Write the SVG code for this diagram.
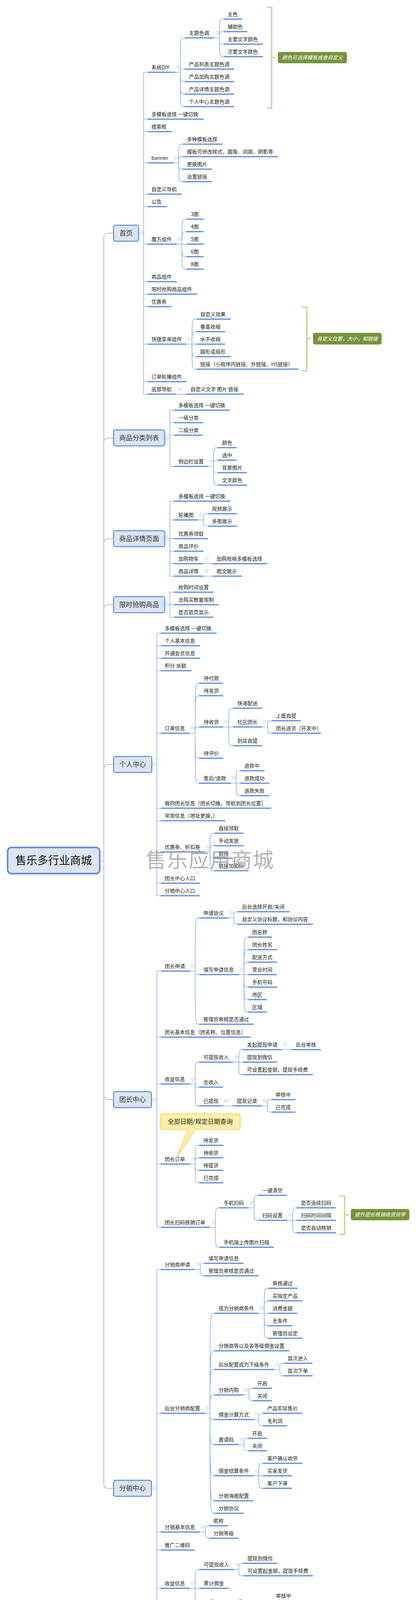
<svg xmlns="http://www.w3.org/2000/svg" xmlns:xlink="http://www.w3.org/1999/xlink" width="1066" height="4403" viewBox="0 0 1066 4403">
<style>
.u{stroke:#5A8BD6;stroke-width:3}
.t{font-family:"Noto Sans CJK SC","Liberation Sans",sans-serif;font-size:13px;fill:#1a1a1a}
.k{fill:none;stroke:#6B98DA;stroke-width:1.2}
.b{fill:#DBE5F3;stroke:#5A8BD6;stroke-width:2.5}
.bt{font-family:"Noto Sans CJK SC","Liberation Sans",sans-serif;font-size:17px;fill:#333;text-anchor:middle}
.br{fill:none;stroke:#C3D69B;stroke-width:3.5}
.cb{fill:#77933C}
.ct{font-family:"Noto Sans CJK SC","Liberation Sans",sans-serif;fill:#fff;font-style:italic;font-size:13px;text-anchor:middle}
</style>
<defs>
<g id="col"><circle r="4.3" fill="#fff" stroke="#AFC0E2" stroke-width="1"/><path d="M-2.3,0H2.3" stroke="#AFC0E2" stroke-width="1"/></g>
</defs>
<rect width="1066" height="4403" fill="#fff"/>

<g id="connectors">
<path class="k" d="M256 2203H266 M266 609V3798 M266 609Q266 597 278 597H291 M266 1133Q266 1121 278 1121H291 M266 1391Q266 1379 278 1379H291 M266 1560Q266 1548 278 1548H291 M266 1969Q266 1957 278 1957H291 M266 2803Q266 2815 278 2815H291 M266 3798Q266 3810 278 3810H291"/>
<path class="k" d="M355 597H368 M368 185V1009 M368 185H378 M368 305H378 M368 337H378 M368 417H378 M368 497H378 M368 529H378 M368 625H378 M368 721H378 M368 753H378 M368 785H378 M368 881H378 M368 977H378 M368 1009H378"/>
<path class="k" d="M422 1121H435 M435 1050V1194 M435 1050H446 M435 1082H446 M435 1114H446 M435 1194H446"/>
<path class="k" d="M422 1379H435 M435 1283V1475 M435 1283H446 M435 1331H446 M435 1379H446 M435 1411H446 M435 1443H446 M435 1475H446"/>
<path class="k" d="M422 1548H435 M435 1516V1580 M435 1516H446 M435 1548H446 M435 1580H446"/>
<path class="k" d="M389 1957H402 M402 1621V2293 M402 1621H412 M402 1653H412 M402 1685H412 M402 1717H412 M402 1877H412 M402 2069H412 M402 2101H412 M402 2181H412 M402 2261H412 M402 2293H412"/>
<path class="k" d="M388 2815H402 M402 2486V3142 M402 2486H412 M402 2655H412 M402 2775H412 M402 2980H412 M402 3142H412"/>
<path class="k" d="M388 3810H402 M402 3250V4371 M402 3250H412 M402 3618H412 M402 3922H412 M402 3968H412 M402 4066H412 M402 4226H412 M402 4371H412"/>
<path class="k" d="M449 185H462 M462 185C462 97 462 97 473 97 M462 185C462 177 462 177 473 177 M462 185C462 209 462 209 473 209 M462 185C462 241 462 241 473 241 M462 185C462 273 462 273 473 273"/>
<path class="k" d="M548 97H562 M562 97C562 49 562 49 573 49 M562 97C562 81 562 81 573 81 M562 97C562 113 562 113 573 113 M562 97C562 145 562 145 573 145"/>
<path class="k" d="M445 417H458 M458 417C458 369 458 369 468 369 M458 417C458 401 458 401 468 401 M458 417C458 433 458 433 468 433 M458 417C458 465 458 465 468 465"/>
<path class="k" d="M453 625H466 M466 625C466 561 466 561 478 561 M466 625C466 593 466 593 478 593 M466 625H478 M466 625C466 657 466 657 478 657 M466 625C466 689 466 689 478 689"/>
<path class="k" d="M478 881H492 M492 881C492 817 492 817 503 817 M492 881C492 849 492 849 503 849 M492 881H503 M492 881C492 913 492 913 503 913 M492 881C492 945 492 945 503 945"/>
<path class="k" d="M452 1009H477"/>
<path class="k" d="M533 1194H547 M547 1194C547 1146 547 1146 558 1146 M547 1194C547 1178 547 1178 558 1178 M547 1194C547 1210 547 1210 558 1210 M547 1194C547 1242 547 1242 558 1242"/>
<path class="k" d="M508 1331H521 M521 1331C521 1315 521 1315 533 1315 M521 1331C521 1347 521 1347 533 1347 M521 1443H545 M521 1475H545"/>
<path class="k" d="M486 1877H500 M500 1877C500 1749 500 1749 510 1749 M500 1877C500 1781 500 1781 510 1781 M500 1877C500 1861 500 1861 510 1861 M500 1877C500 1941 500 1941 510 1941 M500 1877C500 2005 500 2005 510 2005"/>
<path class="k" d="M572 1861H586 M586 1861C586 1813 586 1813 597 1813 M586 1861H597 M586 1861C586 1909 586 1909 597 1909"/>
<path class="k" d="M672 1861H686 M686 1861C686 1845 686 1845 696 1845 M686 1861C686 1877 686 1877 696 1877"/>
<path class="k" d="M592 2005H605 M605 2005C605 1973 605 1973 616 1973 M605 2005H616 M605 2005C605 2037 605 2037 616 2037"/>
<path class="k" d="M525 2181H538 M538 2181C538 2133 538 2133 549 2133 M538 2181C538 2165 538 2165 549 2165 M538 2181C538 2197 538 2197 549 2197 M538 2181C538 2229 538 2229 549 2229"/>
<path class="k" d="M487 2486H500 M500 2486C500 2350 500 2350 510 2350 M500 2486C500 2495 500 2495 510 2495 M500 2486C500 2622 500 2622 510 2622"/>
<path class="k" d="M586 2350H599 M599 2350C599 2334 599 2334 609 2334 M599 2350C599 2366 599 2366 609 2366"/>
<path class="k" d="M612 2495H625 M625 2495C625 2399 625 2399 636 2399 M625 2495C625 2431 625 2431 636 2431 M625 2495C625 2463 625 2463 636 2463 M625 2495H636 M625 2495C625 2527 625 2527 636 2527 M625 2495C625 2559 625 2559 636 2559 M625 2495C625 2591 625 2591 636 2591"/>
<path class="k" d="M487 2775H500 M500 2775C500 2719 500 2719 510 2719 M500 2775C500 2783 500 2783 510 2783 M500 2775C500 2831 500 2831 510 2831"/>
<path class="k" d="M597 2719H612 M612 2719C612 2687 612 2687 622 2687 M612 2719H622 M612 2719C612 2751 612 2751 622 2751 M722 2687H747 M572 2831H596"/>
<path class="k" d="M671 2831H685 M685 2831C685 2815 685 2815 696 2815 M685 2831C685 2847 685 2847 696 2847"/>
<path class="k" d="M486 2980H500 M500 2980C500 2932 500 2932 510 2932 M500 2980C500 2964 500 2964 510 2964 M500 2980C500 2996 500 2996 510 2996 M500 2980C500 3028 500 3028 510 3028"/>
<path class="k" d="M538 3142H552 M552 3142C552 3092 552 3092 562 3092 M552 3142C552 3193 552 3193 562 3193"/>
<path class="k" d="M637 3092H651 M651 3092C651 3060 651 3060 662 3060 M651 3092C651 3124 651 3124 662 3124"/>
<path class="k" d="M736 3124H750 M750 3124C750 3092 750 3092 760 3092 M750 3124H760 M750 3124C750 3156 750 3156 760 3156"/>
<path class="k" d="M499 3250H513 M513 3250C513 3234 513 3234 523 3234 M513 3250C513 3266 513 3266 523 3266"/>
<path class="k" d="M526 3618H538 M538 3618C538 3362 538 3362 549 3362 M538 3618C538 3458 538 3458 549 3458 M538 3618C538 3506 538 3506 549 3506 M538 3618C538 3571 538 3571 549 3571 M538 3618C538 3634 538 3634 549 3634 M538 3618C538 3698 538 3698 549 3698 M538 3618C538 3778 538 3778 549 3778 M538 3618C538 3842 538 3842 549 3842 M538 3618C538 3874 538 3874 549 3874"/>
<path class="k" d="M663 3362H677 M677 3362C677 3298 677 3298 687 3298 M677 3362C677 3330 677 3330 687 3330 M677 3362H687 M677 3362C677 3394 677 3394 687 3394 M677 3362C677 3426 677 3426 687 3426"/>
<path class="k" d="M702 3506H717 M717 3506C717 3490 717 3490 727 3490 M717 3506C717 3522 717 3522 727 3522"/>
<path class="k" d="M624 3571H638 M638 3571C638 3554 638 3554 648 3554 M638 3571C638 3586 638 3586 648 3586"/>
<path class="k" d="M650 3634H663 M663 3634C663 3618 663 3618 674 3618 M663 3634C663 3650 663 3650 674 3650"/>
<path class="k" d="M611 3698H625 M625 3698C625 3682 625 3682 636 3682 M625 3698C625 3714 625 3714 636 3714"/>
<path class="k" d="M650 3778H663 M663 3778C663 3746 663 3746 674 3746 M663 3778H674 M663 3778C663 3810 663 3810 674 3810"/>
<path class="k" d="M512 3922H526 M526 3922C526 3906 526 3906 536 3906 M526 3922C526 3938 526 3938 536 3938"/>
<path class="k" d="M486 4066H500 M500 4066C500 4018 500 4018 511 4018 M500 4066H511 M500 4066C500 4114 500 4114 511 4114"/>
<path class="k" d="M599 4018H612 M612 4018C612 4002 612 4002 623 4002 M612 4018C612 4034 612 4034 623 4034 M573 4114H597"/>
<path class="k" d="M672 4114H685 M685 4114C685 4098 685 4098 696 4098 M685 4114C685 4130 685 4130 696 4130"/>
<path class="k" d="M486 4226H500 M500 4226C500 4162 500 4162 511 4162 M500 4226C500 4194 500 4194 511 4194 M500 4226H511 M500 4226C500 4290 500 4290 511 4290"/>
<path class="k" d="M586 4290H599 M599 4290C599 4258 599 4258 610 4258 M599 4290H610 M599 4290C599 4322 599 4322 610 4322"/>
<path class="k" d="M486 4371H500 M500 4371C500 4354 500 4354 511 4354 M500 4371C500 4386 500 4386 511 4386"/>
</g>

<g id="root"><rect x="19.5" y="2169.5" width="236" height="67" rx="10" fill="#DBE5F3" stroke="#5A8BD6" stroke-width="4"/><text x="137.5" y="2213" font-family="'Noto Sans CJK SC',sans-serif" font-size="28" text-anchor="middle" fill="#111">售乐多行业商城</text></g>

<g id="l1-home"><rect class="b" x="291" y="576.5" width="64" height="41" rx="5"/><text class="bt" x="323" y="603">首页</text><use href="#col" x="362" y="597"/></g>
<g id="l1-cat"><rect class="b" x="291" y="1100.5" width="131" height="41" rx="5"/><text class="bt" x="356.5" y="1127">商品分类列表</text><use href="#col" x="429" y="1121"/></g>
<g id="l1-detail"><rect class="b" x="291" y="1358.5" width="131" height="41" rx="5"/><text class="bt" x="356.5" y="1385">商品详情页面</text><use href="#col" x="429" y="1379"/></g>
<g id="l1-flash"><rect class="b" x="291" y="1527.5" width="131" height="41" rx="5"/><text class="bt" x="356.5" y="1554">限时抢购商品</text><use href="#col" x="429" y="1548"/></g>
<g id="l1-user"><rect class="b" x="291" y="1936.5" width="98" height="41" rx="5"/><text class="bt" x="340" y="1963">个人中心</text><use href="#col" x="396" y="1957"/></g>
<g id="l1-leader"><rect class="b" x="291" y="2794.5" width="97" height="41" rx="5"/><text class="bt" x="339.5" y="2821">团长中心</text><use href="#col" x="395" y="2815"/></g>
<g id="l1-dist"><rect class="b" x="291" y="3789.5" width="97" height="41" rx="5"/><text class="bt" x="339.5" y="3816">分销中心</text><use href="#col" x="395" y="3810"/></g>

<g id="home-nodes">
<g id="n-diy"><line class="u" x1="378" y1="185" x2="449" y2="185"/><text class="t" x="388" y="177">系统DIY</text><use href="#col" x="457" y="172"/></g>
<g id="n-theme"><line class="u" x1="473" y1="97" x2="548" y2="97"/><text class="t" x="484" y="89">主题色调</text><use href="#col" x="557" y="84"/></g>
<g id="n-c1"><line class="u" x1="573" y1="49" x2="621" y2="49"/><text class="t" x="583" y="41">主色</text></g>
<g id="n-c2"><line class="u" x1="573" y1="81" x2="634" y2="81"/><text class="t" x="583" y="73">辅助色</text></g>
<g id="n-c3"><line class="u" x1="573" y1="113" x2="674" y2="113"/><text class="t" x="583" y="105">主要文字颜色</text></g>
<g id="n-c4"><line class="u" x1="573" y1="145" x2="674" y2="145"/><text class="t" x="583" y="137">次要文字颜色</text></g>
<g id="n-t1"><line class="u" x1="473" y1="177" x2="600" y2="177"/><text class="t" x="484" y="169">产品列表主题色调</text></g>
<g id="n-t2"><line class="u" x1="473" y1="209" x2="600" y2="209"/><text class="t" x="484" y="201">产品加购主题色调</text></g>
<g id="n-t3"><line class="u" x1="473" y1="241" x2="600" y2="241"/><text class="t" x="484" y="233">产品详情主题色调</text></g>
<g id="n-t4"><line class="u" x1="473" y1="273" x2="600" y2="273"/><text class="t" x="484" y="265">个人中心主题色调</text></g>
<g id="n-tpl"><line class="u" x1="378" y1="305" x2="522" y2="305"/><text class="t" x="388" y="297">多模板选择 一键切换</text></g>
<g id="n-search"><line class="u" x1="378" y1="337" x2="440" y2="337"/><text class="t" x="388" y="329">搜索框</text></g>
<g id="n-banner"><line class="u" x1="378" y1="417" x2="445" y2="417"/><text class="t" x="388" y="409">banner</text><use href="#col" x="452" y="404"/></g>
<g id="n-b1"><line class="u" x1="468" y1="369" x2="570" y2="369"/><text class="t" x="479" y="361">多种模板选择</text></g>
<g id="n-b2"><line class="u" x1="468" y1="401" x2="713" y2="401"/><text class="t" x="479" y="393">模板可修改样式，圆角、间距、阴影等</text></g>
<g id="n-b3"><line class="u" x1="468" y1="433" x2="543" y2="433"/><text class="t" x="479" y="425">更换图片</text></g>
<g id="n-b4"><line class="u" x1="468" y1="465" x2="543" y2="465"/><text class="t" x="479" y="457">设置链接</text></g>
<g id="n-nav"><line class="u" x1="378" y1="497" x2="466" y2="497"/><text class="t" x="388" y="489">自定义导航</text></g>
<g id="n-notice"><line class="u" x1="378" y1="529" x2="427" y2="529"/><text class="t" x="388" y="521">公告</text></g>
<g id="n-cube"><line class="u" x1="378" y1="625" x2="453" y2="625"/><text class="t" x="388" y="617">魔方组件</text><use href="#col" x="461" y="612"/></g>
<g id="n-m3"><line class="u" x1="478" y1="561" x2="522" y2="561"/><text class="t" x="489" y="553">3图</text></g>
<g id="n-m4"><line class="u" x1="478" y1="593" x2="522" y2="593"/><text class="t" x="489" y="585">4图</text></g>
<g id="n-m5"><line class="u" x1="478" y1="625" x2="522" y2="625"/><text class="t" x="489" y="617">5图</text></g>
<g id="n-m6"><line class="u" x1="478" y1="657" x2="522" y2="657"/><text class="t" x="489" y="649">6图</text></g>
<g id="n-m8"><line class="u" x1="478" y1="689" x2="522" y2="689"/><text class="t" x="489" y="681">8图</text></g>
<g id="n-goods"><line class="u" x1="378" y1="721" x2="453" y2="721"/><text class="t" x="388" y="713">商品组件</text></g>
<g id="n-flashc"><line class="u" x1="378" y1="753" x2="505" y2="753"/><text class="t" x="388" y="745">限时抢购商品组件</text></g>
<g id="n-coupon"><line class="u" x1="378" y1="785" x2="439" y2="785"/><text class="t" x="388" y="777">优惠券</text></g>
<g id="n-quick"><line class="u" x1="378" y1="881" x2="478" y2="881"/><text class="t" x="388" y="873">快捷菜单组件</text><use href="#col" x="486" y="868"/></g>
<g id="n-q1"><line class="u" x1="503" y1="817" x2="591" y2="817"/><text class="t" x="513" y="809">自定义效果</text></g>
<g id="n-q2"><line class="u" x1="503" y1="849" x2="577" y2="849"/><text class="t" x="513" y="841">垂直收缩</text></g>
<g id="n-q3"><line class="u" x1="503" y1="881" x2="577" y2="881"/><text class="t" x="513" y="873">水平收缩</text></g>
<g id="n-q4"><line class="u" x1="503" y1="913" x2="591" y2="913"/><text class="t" x="513" y="905">圆形或扇形</text></g>
<g id="n-q5"><line class="u" x1="503" y1="945" x2="765" y2="945"/><text class="t" x="513" y="937">链接（小程序内链接、外链接、H5链接）</text></g>
<g id="n-orderc"><line class="u" x1="378" y1="977" x2="478" y2="977"/><text class="t" x="388" y="969">订单轮播组件</text></g>
<g id="n-bottom"><line class="u" x1="378" y1="1009" x2="452" y2="1009"/><text class="t" x="388" y="1001">底部导航</text><use href="#col" x="461" y="996"/></g>
<g id="n-bottom1"><line class="u" x1="477" y1="1009" x2="624" y2="1009"/><text class="t" x="488" y="1001">自定义文字 图片 链接</text></g>
</g>

<g id="notes">
<g id="note-color"><path class="br" d="M684 19H696V277H684 M696 147H706"/><rect class="cb" x="712" y="133" width="177" height="29" rx="5"/><text class="ct" x="800.5" y="152">颜色可选择模板或者自定义</text></g>
<g id="note-quick"><path class="br" d="M774 787H786V949H774 M786 867H797"/><rect class="cb" x="802" y="852" width="176" height="30" rx="5"/><text class="ct" x="890" y="872">自定义位置，大小，和链接</text></g>
<g id="note-scan"><path class="br" d="M870 3062H883V3160H870 M883 3110H893"/><rect class="cb" x="899" y="3095" width="150" height="29" rx="5"/><text class="ct" x="974" y="3114">提升团长核销收货效率</text></g>
<g id="note-date"><rect x="410.5" y="2851.5" width="205" height="40" rx="5" fill="#FDF1A8" stroke="#F3C24F" stroke-width="1.5"/><polygon points="481,2890 500,2890 453,2962" fill="#FDF1A8"/><polyline points="481,2892.3 453,2962 500,2892.3" fill="none" stroke="#F3C24F" stroke-width="1.5"/><text x="513" y="2877" font-family="'Noto Sans CJK SC',sans-serif" font-size="16" text-anchor="middle" fill="#222">全部日期/规定日期查询</text></g>
</g>

<g id="cat-nodes">
<g id="n-cat1"><line class="u" x1="446" y1="1050" x2="589" y2="1050"/><text class="t" x="457" y="1042">多模板选择 一键切换</text></g>
<g id="n-cat2"><line class="u" x1="446" y1="1082" x2="520" y2="1082"/><text class="t" x="457" y="1074">一级分类</text></g>
<g id="n-cat3"><line class="u" x1="446" y1="1114" x2="520" y2="1114"/><text class="t" x="457" y="1106">二级分类</text></g>
<g id="n-side"><line class="u" x1="446" y1="1194" x2="533" y2="1194"/><text class="t" x="457" y="1186">侧边栏设置</text><use href="#col" x="541" y="1181"/></g>
<g id="n-s1"><line class="u" x1="558" y1="1146" x2="606" y2="1146"/><text class="t" x="569" y="1138">颜色</text></g>
<g id="n-s2"><line class="u" x1="558" y1="1178" x2="607" y2="1178"/><text class="t" x="569" y="1170">选中</text></g>
<g id="n-s3"><line class="u" x1="558" y1="1210" x2="633" y2="1210"/><text class="t" x="569" y="1202">背景图片</text></g>
<g id="n-s4"><line class="u" x1="558" y1="1242" x2="633" y2="1242"/><text class="t" x="569" y="1234">文字颜色</text></g>
</g>

<g id="detail-nodes">
<g id="n-d1"><line class="u" x1="446" y1="1283" x2="590" y2="1283"/><text class="t" x="457" y="1275">多模板选择 一键切换</text></g>
<g id="n-d2"><line class="u" x1="446" y1="1331" x2="508" y2="1331"/><text class="t" x="457" y="1323">轮播图</text><use href="#col" x="515" y="1318"/></g>
<g id="n-d21"><line class="u" x1="533" y1="1315" x2="607" y2="1315"/><text class="t" x="543" y="1307">视频展示</text></g>
<g id="n-d22"><line class="u" x1="533" y1="1347" x2="607" y2="1347"/><text class="t" x="543" y="1339">多图展示</text></g>
<g id="n-d3"><line class="u" x1="446" y1="1379" x2="533" y2="1379"/><text class="t" x="457" y="1371">优惠券领取</text></g>
<g id="n-d4"><line class="u" x1="446" y1="1411" x2="521" y2="1411"/><text class="t" x="457" y="1403">商品评价</text></g>
<g id="n-d5"><line class="u" x1="446" y1="1443" x2="521" y2="1443"/><text class="t" x="457" y="1435">加购物车</text><use href="#col" x="529" y="1430"/></g>
<g id="n-d51"><line class="u" x1="545" y1="1443" x2="685" y2="1443"/><text class="t" x="555" y="1435">加购规格多模板选择</text></g>
<g id="n-d6"><line class="u" x1="446" y1="1475" x2="521" y2="1475"/><text class="t" x="457" y="1467">商品详情</text><use href="#col" x="529" y="1462"/></g>
<g id="n-d61"><line class="u" x1="545" y1="1475" x2="620" y2="1475"/><text class="t" x="555" y="1467">图文展示</text></g>
</g>

<g id="flash-nodes">
<g id="n-f1"><line class="u" x1="446" y1="1516" x2="547" y2="1516"/><text class="t" x="457" y="1508">抢购时间设置</text></g>
<g id="n-f2"><line class="u" x1="446" y1="1548" x2="560" y2="1548"/><text class="t" x="457" y="1540">总购买数量限制</text></g>
<g id="n-f3"><line class="u" x1="446" y1="1580" x2="547" y2="1580"/><text class="t" x="457" y="1572">是否首页显示</text></g>
</g>

<g id="user-nodes">
<g id="n-u1"><line class="u" x1="412" y1="1621" x2="555" y2="1621"/><text class="t" x="422" y="1613">多模板选择 一键切换</text></g>
<g id="n-u2"><line class="u" x1="412" y1="1653" x2="513" y2="1653"/><text class="t" x="422" y="1645">个人基本信息</text></g>
<g id="n-u3"><line class="u" x1="412" y1="1685" x2="513" y2="1685"/><text class="t" x="422" y="1677">开通会员信息</text></g>
<g id="n-u4"><line class="u" x1="412" y1="1717" x2="491" y2="1717"/><text class="t" x="422" y="1709">积分 余额</text></g>
<g id="n-order"><line class="u" x1="412" y1="1877" x2="486" y2="1877"/><text class="t" x="422" y="1869">订单信息</text><use href="#col" x="494" y="1864"/></g>
<g id="n-o1"><line class="u" x1="510" y1="1749" x2="572" y2="1749"/><text class="t" x="522" y="1741">待付款</text></g>
<g id="n-o2"><line class="u" x1="510" y1="1781" x2="572" y2="1781"/><text class="t" x="522" y="1773">待发货</text></g>
<g id="n-o3"><line class="u" x1="510" y1="1861" x2="572" y2="1861"/><text class="t" x="522" y="1853">待收货</text><use href="#col" x="580" y="1848"/></g>
<g id="n-o31"><line class="u" x1="597" y1="1813" x2="672" y2="1813"/><text class="t" x="608" y="1805">快递配送</text></g>
<g id="n-o32"><line class="u" x1="597" y1="1861" x2="672" y2="1861"/><text class="t" x="608" y="1853">社区团长</text><use href="#col" x="680" y="1848"/></g>
<g id="n-o321"><line class="u" x1="696" y1="1845" x2="771" y2="1845"/><text class="t" x="707" y="1837">上面自提</text></g>
<g id="n-o322"><line class="u" x1="696" y1="1877" x2="822" y2="1877"/><text class="t" x="707" y="1869">团长送货（开发中）</text></g>
<g id="n-o33"><line class="u" x1="597" y1="1909" x2="672" y2="1909"/><text class="t" x="608" y="1901">到店自提</text></g>
<g id="n-o4"><line class="u" x1="510" y1="1941" x2="572" y2="1941"/><text class="t" x="522" y="1933">待评价</text></g>
<g id="n-o5"><line class="u" x1="510" y1="2005" x2="592" y2="2005"/><text class="t" x="522" y="1997">售后/退款</text><use href="#col" x="599" y="1992"/></g>
<g id="n-o51"><line class="u" x1="616" y1="1973" x2="678" y2="1973"/><text class="t" x="626" y="1965">退款中</text></g>
<g id="n-o52"><line class="u" x1="616" y1="2005" x2="690" y2="2005"/><text class="t" x="626" y="1997">退款成功</text></g>
<g id="n-o53"><line class="u" x1="616" y1="2037" x2="690" y2="2037"/><text class="t" x="626" y="2029">退款失败</text></g>
<g id="n-u5"><line class="u" x1="412" y1="2069" x2="695" y2="2069"/><text class="t" x="422" y="2061">我的团长信息（团长切换、导航到团长位置）</text></g>
<g id="n-u6"><line class="u" x1="412" y1="2101" x2="577" y2="2101"/><text class="t" x="422" y="2093">常用信息（地址更换，）</text></g>
<g id="n-u7"><line class="u" x1="412" y1="2181" x2="525" y2="2181"/><text class="t" x="422" y="2173">优惠券、折扣券</text><use href="#col" x="533" y="2168"/></g>
<g id="n-u71"><line class="u" x1="549" y1="2133" x2="624" y2="2133"/><text class="t" x="560" y="2125">直接领取</text></g>
<g id="n-u72"><line class="u" x1="549" y1="2165" x2="624" y2="2165"/><text class="t" x="560" y="2157">手动发放</text></g>
<g id="n-u73"><line class="u" x1="549" y1="2197" x2="597" y2="2197"/><text class="t" x="560" y="2189">链接</text></g>
<g id="n-u74"><line class="u" x1="549" y1="2229" x2="637" y2="2229"/><text class="t" x="560" y="2221">链接加密码</text></g>
<g id="n-u8"><line class="u" x1="412" y1="2261" x2="512" y2="2261"/><text class="t" x="422" y="2253">团长中心入口</text></g>
<g id="n-u9"><line class="u" x1="412" y1="2293" x2="512" y2="2293"/><text class="t" x="422" y="2285">分销中心入口</text></g>
</g>

<g id="leader-nodes">
<g id="n-l1"><line class="u" x1="412" y1="2486" x2="487" y2="2486"/><text class="t" x="422" y="2478">团长申请</text><use href="#col" x="494" y="2473"/></g>
<g id="n-l11"><line class="u" x1="510" y1="2350" x2="586" y2="2350"/><text class="t" x="521" y="2342">申请协议</text><use href="#col" x="593" y="2337"/></g>
<g id="n-l111"><line class="u" x1="609" y1="2334" x2="742" y2="2334"/><text class="t" x="620" y="2326">后台选择开启/关闭</text></g>
<g id="n-l112"><line class="u" x1="609" y1="2366" x2="802" y2="2366"/><text class="t" x="620" y="2358">自定义协议标题，和协议内容</text></g>
<g id="n-l12"><line class="u" x1="510" y1="2495" x2="612" y2="2495"/><text class="t" x="521" y="2487">填写申请信息</text><use href="#col" x="619" y="2482"/></g>
<g id="n-l121"><line class="u" x1="636" y1="2399" x2="697" y2="2399"/><text class="t" x="646" y="2391">团名称</text></g>
<g id="n-l122"><line class="u" x1="636" y1="2431" x2="710" y2="2431"/><text class="t" x="646" y="2423">团长姓名</text></g>
<g id="n-l123"><line class="u" x1="636" y1="2463" x2="710" y2="2463"/><text class="t" x="646" y="2455">配送方式</text></g>
<g id="n-l124"><line class="u" x1="636" y1="2495" x2="710" y2="2495"/><text class="t" x="646" y="2487">营业时间</text></g>
<g id="n-l125"><line class="u" x1="636" y1="2527" x2="710" y2="2527"/><text class="t" x="646" y="2519">手机号码</text></g>
<g id="n-l126"><line class="u" x1="636" y1="2559" x2="684" y2="2559"/><text class="t" x="646" y="2551">地区</text></g>
<g id="n-l127"><line class="u" x1="636" y1="2591" x2="684" y2="2591"/><text class="t" x="646" y="2583">区域</text></g>
<g id="n-l13"><line class="u" x1="510" y1="2622" x2="650" y2="2622"/><text class="t" x="521" y="2614">管理员审核是否通过</text></g>
<g id="n-l2"><line class="u" x1="412" y1="2655" x2="642" y2="2655"/><text class="t" x="422" y="2647">团长基本信息（团名称、位置信息）</text></g>
<g id="n-l3"><line class="u" x1="412" y1="2775" x2="487" y2="2775"/><text class="t" x="422" y="2767">收益信息</text><use href="#col" x="494" y="2762"/></g>
<g id="n-l31"><line class="u" x1="510" y1="2719" x2="597" y2="2719"/><text class="t" x="521" y="2711">可提现收入</text><use href="#col" x="606" y="2706"/></g>
<g id="n-l311"><line class="u" x1="622" y1="2687" x2="722" y2="2687"/><text class="t" x="633" y="2679">发起提现申请</text><use href="#col" x="731" y="2674"/></g>
<g id="n-l3111"><line class="u" x1="747" y1="2687" x2="822" y2="2687"/><text class="t" x="758" y="2679">后台审核</text></g>
<g id="n-l312"><line class="u" x1="622" y1="2719" x2="710" y2="2719"/><text class="t" x="633" y="2711">提现到微信</text></g>
<g id="n-l313"><line class="u" x1="622" y1="2751" x2="802" y2="2751"/><text class="t" x="633" y="2743">可设置起金额，提现手续费</text></g>
<g id="n-l32"><line class="u" x1="510" y1="2783" x2="572" y2="2783"/><text class="t" x="521" y="2775">总收入</text></g>
<g id="n-l33"><line class="u" x1="510" y1="2831" x2="572" y2="2831"/><text class="t" x="521" y="2823">已提现</text><use href="#col" x="580" y="2818"/></g>
<g id="n-l331"><line class="u" x1="596" y1="2831" x2="671" y2="2831"/><text class="t" x="607" y="2823">提现记录</text><use href="#col" x="679" y="2818"/></g>
<g id="n-l3311"><line class="u" x1="696" y1="2815" x2="757" y2="2815"/><text class="t" x="706" y="2807">审核中</text></g>
<g id="n-l3312"><line class="u" x1="696" y1="2847" x2="757" y2="2847"/><text class="t" x="706" y="2839">已完成</text></g>
<g id="n-l4"><line class="u" x1="412" y1="2980" x2="486" y2="2980"/><text class="t" x="422" y="2972">团长订单</text><use href="#col" x="494" y="2967"/></g>
<g id="n-l41"><line class="u" x1="510" y1="2932" x2="572" y2="2932"/><text class="t" x="521" y="2924">待发货</text></g>
<g id="n-l42"><line class="u" x1="510" y1="2964" x2="572" y2="2964"/><text class="t" x="521" y="2956">待收货</text></g>
<g id="n-l43"><line class="u" x1="510" y1="2996" x2="572" y2="2996"/><text class="t" x="521" y="2988">待提货</text></g>
<g id="n-l44"><line class="u" x1="510" y1="3028" x2="572" y2="3028"/><text class="t" x="521" y="3020">已完成</text></g>
<g id="n-l5"><line class="u" x1="412" y1="3142" x2="538" y2="3142"/><text class="t" x="422" y="3134">团长扫码核销订单</text><use href="#col" x="546" y="3129"/></g>
<g id="n-l51"><line class="u" x1="562" y1="3092" x2="637" y2="3092"/><text class="t" x="573" y="3084">手机扫码</text><use href="#col" x="645" y="3079"/></g>
<g id="n-l511"><line class="u" x1="662" y1="3060" x2="736" y2="3060"/><text class="t" x="672" y="3052">一键清空</text></g>
<g id="n-l512"><line class="u" x1="662" y1="3124" x2="736" y2="3124"/><text class="t" x="672" y="3116">扫码设置</text><use href="#col" x="744" y="3111"/></g>
<g id="n-l5121"><line class="u" x1="760" y1="3092" x2="861" y2="3092"/><text class="t" x="771" y="3084">是否连续扫码</text></g>
<g id="n-l5122"><line class="u" x1="760" y1="3124" x2="861" y2="3124"/><text class="t" x="771" y="3116">扫码时间间隔</text></g>
<g id="n-l5123"><line class="u" x1="760" y1="3156" x2="861" y2="3156"/><text class="t" x="771" y="3148">是否自动核销</text></g>
<g id="n-l52"><line class="u" x1="562" y1="3193" x2="702" y2="3193"/><text class="t" x="573" y="3185">手机端上传图片扫描</text></g>
</g>

<g id="dist-nodes">
<g id="n-x1"><line class="u" x1="412" y1="3250" x2="499" y2="3250"/><text class="t" x="422" y="3242">分销商申请</text><use href="#col" x="507" y="3237"/></g>
<g id="n-x11"><line class="u" x1="523" y1="3234" x2="624" y2="3234"/><text class="t" x="534" y="3226">填写申请信息</text></g>
<g id="n-x12"><line class="u" x1="523" y1="3266" x2="663" y2="3266"/><text class="t" x="534" y="3258">管理员审核是否通过</text></g>
<g id="n-x2"><line class="u" x1="412" y1="3618" x2="526" y2="3618"/><text class="t" x="422" y="3610">后台分销商配置</text><use href="#col" x="533" y="3605"/></g>
<g id="n-x21"><line class="u" x1="549" y1="3362" x2="663" y2="3362"/><text class="t" x="560" y="3354">成为分销商条件</text><use href="#col" x="671" y="3349"/></g>
<g id="n-x211"><line class="u" x1="687" y1="3298" x2="762" y2="3298"/><text class="t" x="698" y="3290">审核通过</text></g>
<g id="n-x212"><line class="u" x1="687" y1="3330" x2="775" y2="3330"/><text class="t" x="698" y="3322">买指定产品</text></g>
<g id="n-x213"><line class="u" x1="687" y1="3362" x2="762" y2="3362"/><text class="t" x="698" y="3354">消费金额</text></g>
<g id="n-x214"><line class="u" x1="687" y1="3394" x2="749" y2="3394"/><text class="t" x="698" y="3386">无条件</text></g>
<g id="n-x215"><line class="u" x1="687" y1="3426" x2="775" y2="3426"/><text class="t" x="698" y="3418">管理员设定</text></g>
<g id="n-x22"><line class="u" x1="549" y1="3458" x2="741" y2="3458"/><text class="t" x="560" y="3450">分销商等以及各等级佣金设置</text></g>
<g id="n-x23"><line class="u" x1="549" y1="3506" x2="702" y2="3506"/><text class="t" x="560" y="3498">后台配置成为下级条件</text><use href="#col" x="710" y="3493"/></g>
<g id="n-x231"><line class="u" x1="727" y1="3490" x2="801" y2="3490"/><text class="t" x="737" y="3482">首次进入</text></g>
<g id="n-x232"><line class="u" x1="727" y1="3522" x2="801" y2="3522"/><text class="t" x="737" y="3514">首次下单</text></g>
<g id="n-x24"><line class="u" x1="549" y1="3571" x2="624" y2="3571"/><text class="t" x="560" y="3563">分销内购</text><use href="#col" x="632" y="3558"/></g>
<g id="n-x241"><line class="u" x1="648" y1="3554" x2="697" y2="3554"/><text class="t" x="659" y="3546">开启</text></g>
<g id="n-x242"><line class="u" x1="648" y1="3586" x2="697" y2="3586"/><text class="t" x="659" y="3578">关闭</text></g>
<g id="n-x25"><line class="u" x1="549" y1="3634" x2="650" y2="3634"/><text class="t" x="560" y="3626">佣金计算方式</text><use href="#col" x="658" y="3621"/></g>
<g id="n-x251"><line class="u" x1="674" y1="3618" x2="775" y2="3618"/><text class="t" x="685" y="3610">产品实际售价</text></g>
<g id="n-x252"><line class="u" x1="674" y1="3650" x2="736" y2="3650"/><text class="t" x="685" y="3642">毛利润</text></g>
<g id="n-x26"><line class="u" x1="549" y1="3698" x2="611" y2="3698"/><text class="t" x="560" y="3690">邀请码</text><use href="#col" x="619" y="3685"/></g>
<g id="n-x261"><line class="u" x1="636" y1="3682" x2="684" y2="3682"/><text class="t" x="646" y="3674">开启</text></g>
<g id="n-x262"><line class="u" x1="636" y1="3714" x2="684" y2="3714"/><text class="t" x="646" y="3706">关闭</text></g>
<g id="n-x27"><line class="u" x1="549" y1="3778" x2="650" y2="3778"/><text class="t" x="560" y="3770">佣金结算条件</text><use href="#col" x="658" y="3765"/></g>
<g id="n-x271"><line class="u" x1="674" y1="3746" x2="775" y2="3746"/><text class="t" x="685" y="3738">客户确认收货</text></g>
<g id="n-x272"><line class="u" x1="674" y1="3778" x2="749" y2="3778"/><text class="t" x="685" y="3770">买家发货</text></g>
<g id="n-x273"><line class="u" x1="674" y1="3810" x2="749" y2="3810"/><text class="t" x="685" y="3802">客户下单</text></g>
<g id="n-x28"><line class="u" x1="549" y1="3842" x2="650" y2="3842"/><text class="t" x="560" y="3834">分销海报配置</text></g>
<g id="n-x29"><line class="u" x1="549" y1="3874" x2="624" y2="3874"/><text class="t" x="560" y="3866">分销协议</text></g>
<g id="n-x3"><line class="u" x1="412" y1="3922" x2="512" y2="3922"/><text class="t" x="422" y="3914">分销基本信息</text><use href="#col" x="520" y="3909"/></g>
<g id="n-x31"><line class="u" x1="536" y1="3906" x2="585" y2="3906"/><text class="t" x="547" y="3898">昵称</text></g>
<g id="n-x32"><line class="u" x1="536" y1="3938" x2="611" y2="3938"/><text class="t" x="547" y="3930">分销等级</text></g>
<g id="n-x4"><line class="u" x1="412" y1="3968" x2="499" y2="3968"/><text class="t" x="422" y="3960">推广二维码</text></g>
<g id="n-x5"><line class="u" x1="412" y1="4066" x2="486" y2="4066"/><text class="t" x="422" y="4058">收益信息</text><use href="#col" x="494" y="4053"/></g>
<g id="n-x51"><line class="u" x1="511" y1="4018" x2="599" y2="4018"/><text class="t" x="522" y="4010">可提现收入</text><use href="#col" x="607" y="4005"/></g>
<g id="n-x511"><line class="u" x1="623" y1="4002" x2="711" y2="4002"/><text class="t" x="634" y="3994">提现到微信</text></g>
<g id="n-x512"><line class="u" x1="623" y1="4034" x2="802" y2="4034"/><text class="t" x="634" y="4026">可设置起金额，提现手续费</text></g>
<g id="n-x52"><line class="u" x1="511" y1="4066" x2="586" y2="4066"/><text class="t" x="522" y="4058">累计佣金</text></g>
<g id="n-x53"><line class="u" x1="511" y1="4114" x2="573" y2="4114"/><text class="t" x="522" y="4106">已提现</text><use href="#col" x="581" y="4101"/></g>
<g id="n-x531"><line class="u" x1="597" y1="4114" x2="672" y2="4114"/><text class="t" x="608" y="4106">提现记录</text><use href="#col" x="680" y="4101"/></g>
<g id="n-x5311"><line class="u" x1="696" y1="4098" x2="758" y2="4098"/><text class="t" x="707" y="4090">审核中</text></g>
<g id="n-x5312"><line class="u" x1="696" y1="4130" x2="758" y2="4130"/><text class="t" x="707" y="4122">已完成</text></g>
<g id="n-x6"><line class="u" x1="412" y1="4226" x2="486" y2="4226"/><text class="t" x="422" y="4218">分销订单</text><use href="#col" x="494" y="4213"/></g>
<g id="n-x61"><line class="u" x1="511" y1="4162" x2="573" y2="4162"/><text class="t" x="522" y="4154">未付款</text></g>
<g id="n-x62"><line class="u" x1="511" y1="4194" x2="573" y2="4194"/><text class="t" x="522" y="4186">未分佣</text></g>
<g id="n-x63"><line class="u" x1="511" y1="4226" x2="573" y2="4226"/><text class="t" x="522" y="4218">已分佣</text></g>
<g id="n-x64"><line class="u" x1="511" y1="4290" x2="586" y2="4290"/><text class="t" x="522" y="4282">分销信息</text><use href="#col" x="593" y="4277"/></g>
<g id="n-x641"><line class="u" x1="610" y1="4258" x2="698" y2="4258"/><text class="t" x="620" y="4250">分佣订单号</text></g>
<g id="n-x642"><line class="u" x1="610" y1="4290" x2="685" y2="4290"/><text class="t" x="620" y="4282">预计佣金</text></g>
<g id="n-x643"><line class="u" x1="610" y1="4322" x2="685" y2="4322"/><text class="t" x="620" y="4314">下单时间</text></g>
<g id="n-x7"><line class="u" x1="412" y1="4371" x2="486" y2="4371"/><text class="t" x="422" y="4363">分销团队</text><use href="#col" x="494" y="4358"/></g>
<g id="n-x71"><line class="u" x1="511" y1="4354" x2="612" y2="4354"/><text class="t" x="522" y="4346">三级团队人员</text></g>
<g id="n-x72"><line class="u" x1="511" y1="4386" x2="703" y2="4386"/><text class="t" x="522" y="4378">团队人员佣金明细和订单数量</text></g>
</g>

<text id="watermark" x="373" y="2221" font-family="'Noto Sans CJK SC',sans-serif" font-size="53" letter-spacing="2" fill="#9a9a9a" fill-opacity="0.75">售乐应用商城</text>
</svg>
